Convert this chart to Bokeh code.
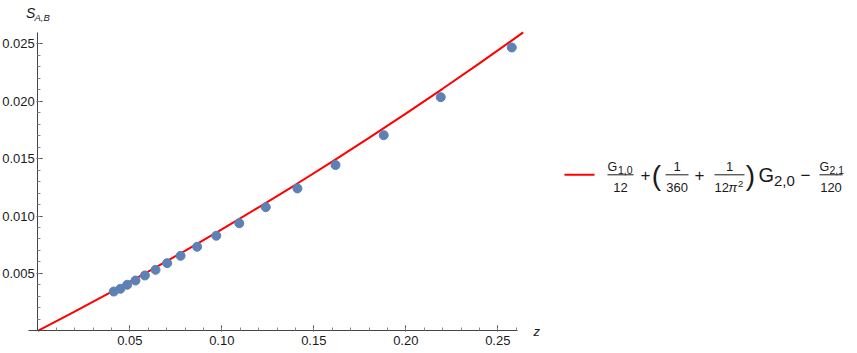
from bokeh.plotting import figure
from bokeh.models import Range1d, FixedTicker
from bokeh.embed import file_html
from bokeh.resources import INLINE
from bokeh.core.properties import value

# ---- data ----
z_points = [0.0413, 0.0449, 0.0486, 0.0531, 0.0582, 0.0640, 0.0703, 0.0776, 0.0866,
            0.0970, 0.1095, 0.1239, 0.1411, 0.1618, 0.1880, 0.2190, 0.2576]
s_points = [0.00342, 0.00366, 0.00401, 0.00438, 0.00482, 0.00531, 0.00589, 0.00653, 0.00732,
            0.00828, 0.00937, 0.01077, 0.01240, 0.01444, 0.01704, 0.02035, 0.02468]
z_curve = [0.0, 0.02, 0.04, 0.06, 0.08, 0.10, 0.12, 0.14, 0.16, 0.18, 0.20, 0.22, 0.24, 0.26, 0.2638]
s_curve = [0.0, 0.00167, 0.00339, 0.00516, 0.00697, 0.00884, 0.01076, 0.01272, 0.01474,
           0.01680, 0.01892, 0.02108, 0.02329, 0.02556, 0.02600]
x_major = [0.05, 0.10, 0.15, 0.20, 0.25]
x_tick_labels = ["0.05", "0.10", "0.15", "0.20", "0.25"]
x_minor = [round(0.01 * i, 2) for i in range(1, 27)]
y_major = [0.005, 0.010, 0.015, 0.020, 0.025]
y_tick_labels = ["0.005", "0.010", "0.015", "0.020", "0.025"]
y_minor = [round(0.001 * i, 3) for i in range(1, 26)]
x_axis_span = (-0.0053, 0.2605)
y_axis_span = (0.0, 0.026)

FONT = "Liberation Sans"
INK = "#1a1a1a"
AXIS = "#444444"
BLUE = "#5E81B5"
RED = "#FF0000"

W, H = 857, 353
X0, XS = 37.3, 1840.0     # canvas px of z=0, px per unit z
Y0, YS = 330.3, 11480.0   # canvas px of S=0, px per unit S


def X(px):
    return (px - X0) / XS


def Y(py):
    return (Y0 - py) / YS


p = figure(width=W, height=H, x_range=Range1d(X(0), X(W)), y_range=Range1d(Y(H), Y(0)),
           output_backend="svg", toolbar_location=None, min_border=0)
p.outline_line_color = None
p.grid.visible = False
p.background_fill_color = "white"
p.border_fill_color = "white"

for ax, major, minor, labels, span in ((p.xaxis[0], x_major, x_minor, x_tick_labels, x_axis_span),
                                       (p.yaxis[0], y_major, y_minor, y_tick_labels, y_axis_span)):
    ax.fixed_location = 0
    ax.bounds = span
    ax.ticker = FixedTicker(ticks=major, minor_ticks=minor)
    ax.major_label_overrides = {t: l for t, l in zip(major, labels)}
    ax.axis_line_color = AXIS
    ax.major_tick_line_color = AXIS
    ax.minor_tick_line_color = "#888888"
    ax.major_tick_in = 5
    ax.major_tick_out = 1
    ax.minor_tick_in = 3
    ax.minor_tick_out = 0
    ax.major_label_text_font = FONT
    ax.major_label_text_font_size = "13px"
    ax.major_label_text_color = INK

p.xaxis.major_label_standoff = 4
p.yaxis.major_label_standoff = 2

p.line(z_curve, s_curve, line_color=RED, line_width=2)
p.scatter(z_points, s_points, size=9, fill_color=BLUE, line_color=BLUE)


def t(px, py, s, size, align="center", italic=False):
    p.text(x=[X(px)], y=[Y(py)], text=[s], text_font=value(FONT), text_font_size=f"{size}px",
           text_align=align, text_baseline="middle", text_color=INK,
           text_font_style="italic" if italic else "normal")


def bar(px0, px1, py):
    p.segment(x0=[X(px0)], y0=[Y(py)], x1=[X(px1)], y1=[Y(py)], line_color=INK, line_width=1)


# axis labels
t(25.5, 12, "S", 14, "left", True)
t(34, 16.5, "A,B", 9.5, "left", True)
t(533, 331, "z", 13, "left", True)

# legend
p.line([X(564), X(594)], [Y(174.3), Y(174.3)], line_color=RED, line_width=2)
# G_{1,0}/12
t(607, 166, "G", 12.5, "left")
t(617.5, 169.5, "1,0", 10.5, "left")
bar(607, 633, 174.3)
t(620, 187, "12", 13)
t(645, 174.3, "+", 17)
t(656, 174.5, "(", 28)
# 1/360
t(676.7, 166, "1", 13)
bar(665, 688, 174.3)
t(676.7, 187, "360", 13)
t(699, 174.3, "+", 17)
# 1/(12 pi^2)
t(729, 166, "1", 13)
bar(714, 744, 174.3)
t(714, 187, "12", 13, "left")
t(728, 187, "π", 13, "left", True)
t(737.5, 183, "2", 9.5, "left")
t(750, 174.5, ")", 28)
# G_{2,0}
t(758, 174.3, "G", 20, "left")
t(773.5, 180, "2,0", 15, "left")
t(805, 174.3, "−", 17)
# G_{2,1}/120
t(819, 166, "G", 12.5, "left")
t(829, 169.5, "2,1", 10.5, "left")
bar(819, 842, 174.3)
t(830.5, 187, "120", 13)

open("out.html", "w").write(file_html(p, INLINE))
